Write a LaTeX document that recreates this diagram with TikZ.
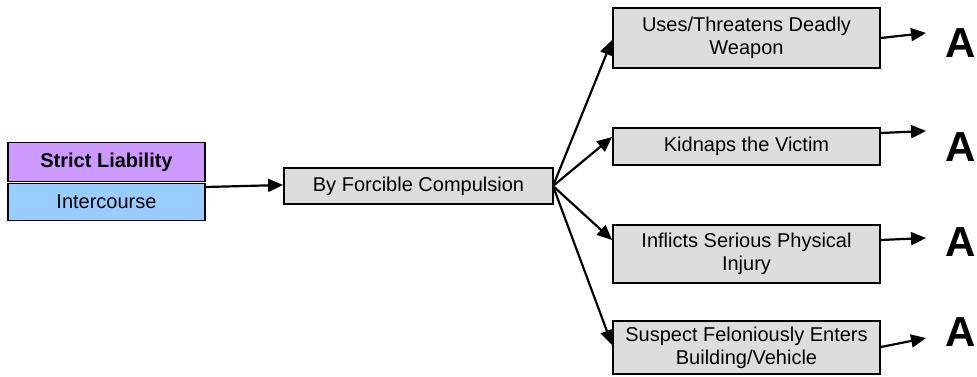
\documentclass[tikz,border=0pt]{standalone}
\usepackage{fontspec}
\setmainfont{Liberation Sans}
\usetikzlibrary{arrows.meta}
\definecolor{liabpurple}{HTML}{CC99FF}
\definecolor{actblue}{HTML}{99CCFF}
\definecolor{stepgray}{HTML}{DDDDDD}
\begin{document}
\begin{tikzpicture}[x=1pt,y=-1pt,
  box/.style={draw=black, line width=1.8pt, rectangle, inner sep=0pt,
    align=center, font=\fontsize{20}{23}\selectfont},
  graybox/.style={box, fill=stepgray, minimum width=267pt},
  grade/.style={font=\fontsize{42}{42}\selectfont\bfseries, inner sep=0pt},
  link/.style={line width=2.2pt, -{Triangle[length=15pt,width=13pt]}}]
\useasboundingbox (0,0) rectangle (977,377);

% element boxes on the left
\node[box, fill=liabpurple, minimum width=197pt, minimum height=39pt,
  font=\fontsize{20}{23}\selectfont\bfseries] (liab) at (106.5,162) {Strict Liability};
\node[box, fill=actblue, minimum width=197pt, minimum height=37pt] (act) at (106.5,202) {Intercourse};

% means of compulsion
\node[graybox, minimum width=269pt, minimum height=36pt] (force) at (418.5,186) {By Forcible Compulsion};

% aggravating circumstances
\node[graybox, minimum height=60pt] (weapon) at (746.5,38) {Uses/Threatens Deadly\\Weapon};
\node[graybox, minimum height=37pt] (kidnap) at (746.5,146.5) {Kidnaps the Victim};
\node[graybox, minimum height=58pt] (injury) at (746.5,254) {Inflicts Serious Physical\\Injury};
\node[graybox, minimum height=53pt] (enters) at (746.5,347.5) {Suspect Feloniously Enters\\Building/Vehicle};

% resulting grades
\node[grade] (g1) at (961,43) {A};
\node[grade] (g2) at (961,147) {A};
\node[grade] (g3) at (961,242) {A};
\node[grade] (g4) at (961,332) {A};

% connectors
\coordinate (fan) at (553,186);
\draw[link] (act.east |- 0,187) -- (force.west |- 0,185);
\draw[link] (fan) -- (weapon.west |- 0,40);
\draw[link] (fan) -- (kidnap.west |- 0,137);
\draw[link] (fan) -- (injury.west |- 0,240);
\draw[link] (fan) -- (enters.west |- 0,345);

\coordinate (e1) at (926,33);
\coordinate (e2) at (926,131);
\coordinate (e3) at (926,238);
\coordinate (e4) at (926,338);
\draw[link] (weapon.east |- 0,38) -- (e1);
\draw[link] (kidnap.east |- 0,133) -- (e2);
\draw[link] (injury.east |- 0,240) -- (e3);
\draw[link] (enters.east |- 0,347) -- (e4);
\end{tikzpicture}
\end{document}
